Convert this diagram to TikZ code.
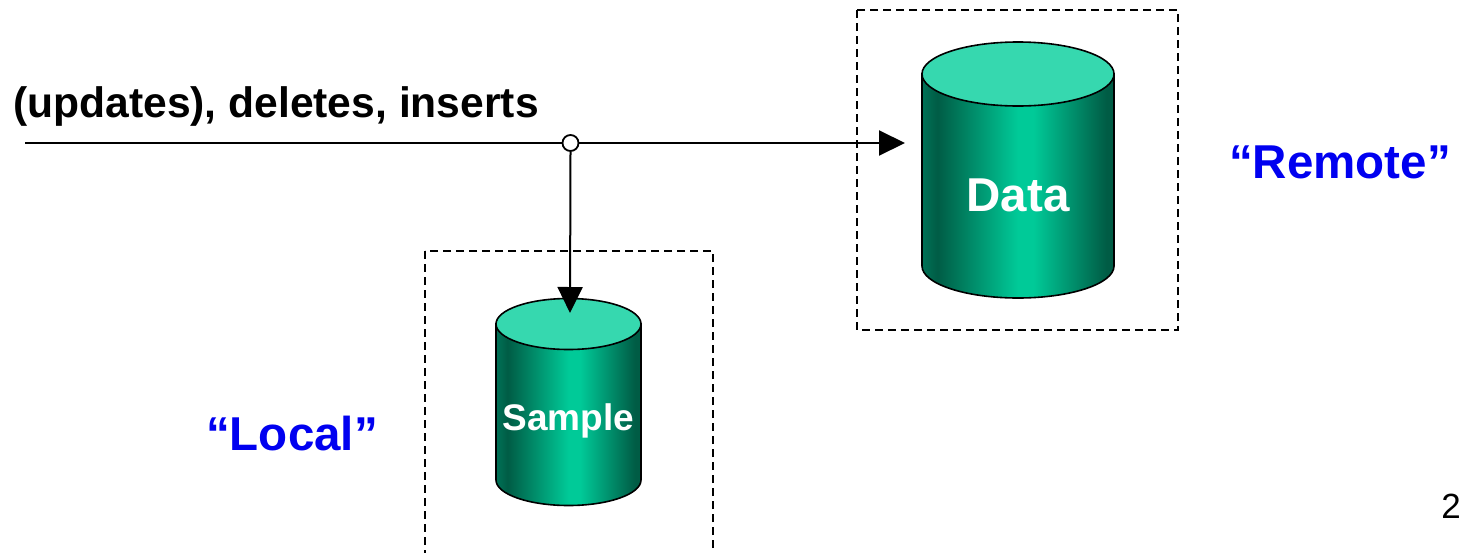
\documentclass[tikz,border=0pt]{standalone}
\usepackage{fontspec}
\setmainfont{Liberation Sans}
\usetikzlibrary{arrows.meta}

\definecolor{cyltop}{HTML}{36D8AF}
\definecolor{cylbright}{HTML}{00CA98}
\definecolor{cyldark}{HTML}{005C45}
\definecolor{cyledge}{HTML}{007257}
\definecolor{quoteblue}{HTML}{0000F0}

% body of a cylinder: dark at the sides, bright down the middle
\pgfdeclarehorizontalshading{cylbody}{100bp}{%
  color(0bp)=(cyledge); color(25bp)=(cyledge); color(29bp)=(cyldark);
  color(50bp)=(cylbright); color(54bp)=(cylbright);
  color(73bp)=(cyldark); color(100bp)=(cyldark)}

\tikzset{
  flow/.style={line width=2pt},
  tip/.style={-{Triangle[length=26pt,width=25pt]}},
  zone/.style={draw, line width=1.6pt, dash pattern=on 8pt off 5pt},
  cylline/.style={draw=black, line width=1.6pt},
  headline/.style={font=\fontsize{42.6}{48}\selectfont\bfseries, inner sep=0pt},
  place/.style={font=\fontsize{47.5}{54}\selectfont\bfseries, text=quoteblue, inner sep=0pt},
  dbname/.style={text=white, inner sep=0pt},
}

% cylinder: #1 = centre x, #2 = top y, #3 = bottom y, #4 = x radius, #5 = y radius
\newcommand{\dbcylinder}[5]{%
  \path[cylline, shading=cylbody]
    (#1-#4,#2) -- (#1-#4,#3)
    arc[start angle=180, end angle=360, x radius=#4, y radius=#5]
    -- (#1+#4,#2) -- cycle;
  \path[cylline, fill=cyltop] (#1,#2) ellipse[x radius=#4, y radius=#5];
}

\begin{document}
\begin{tikzpicture}[x=1pt, y=1pt]
\useasboundingbox (0,0) rectangle (1463,-552);

% dashed zones round the two stores
\draw[zone] (857,-10) rectangle (1178,-330);
\draw[zone] (425,-251) rectangle (713,-600);

% the two stores
\dbcylinder{1018}{-74}{-266}{96}{32}
\dbcylinder{568.5}{-324}{-480}{72.5}{25.5}

\node[dbname, anchor=base, font=\fontsize{47.5}{54}\selectfont\bfseries]
  (data) at (1018,-211) {Data};
\node[dbname, anchor=base, font=\fontsize{37}{42}\selectfont\bfseries]
  (sample) at (568.5,-430) {Sample};

% incoming change stream, split at the junction
\coordinate (src) at (25,-143);
\coordinate (datain) at (905,-143);
\coordinate (samplein) at (570,-313);
\node[circle, draw, line width=1.8pt, fill=white, minimum size=16pt, inner sep=0pt]
  (j) at (570.5,-143) {};
\draw[flow] (src) -- (j.west);
\draw[flow, tip] (j.east) -- (datain);
\draw[flow, tip] (j.south) -- (samplein);

% labels
\node[headline, anchor=base west] (ops) at (13,-117) {(updates), deletes, inserts};
\node[place, anchor=base] (remote) at (1340,-178) {“Remote”};
\node[place, anchor=base] (local) at (292,-450) {“Local”};
\node[anchor=base, inner sep=0pt, font=\fontsize{35}{40}\selectfont] (page) at (1451,-518) {2};
\end{tikzpicture}
\end{document}
